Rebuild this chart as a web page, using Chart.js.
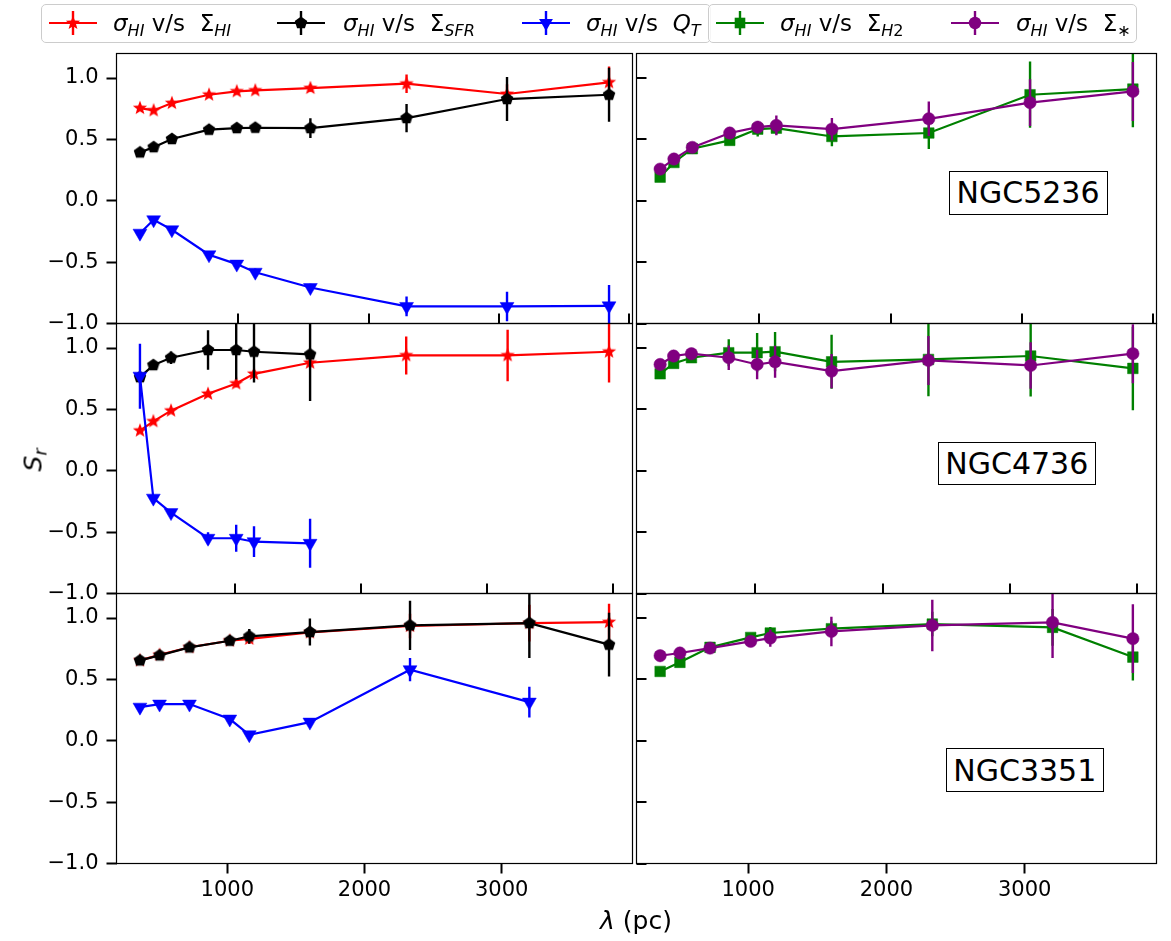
<!DOCTYPE html>
<html>
<head>
<meta charset="utf-8">
<script src="https://cdn.jsdelivr.net/npm/chart.js@4/dist/chart.umd.min.js"></script>
<style>
html,body{margin:0;padding:0;background:#fff;}
#wrap{position:relative;width:1171px;height:941px;overflow:hidden;font-family:"DejaVu Sans",sans-serif;color:#000;}
#wrap canvas{position:absolute;}
.lg{position:absolute;border:1px solid #cccccc;border-radius:5px;background:rgba(255,255,255,0.8);box-sizing:border-box;}
.ent{position:absolute;font-size:23px;white-space:nowrap;line-height:1;}
.ent sub,.lab sub{font-size:0.7em;vertical-align:-0.28em;line-height:0;}
.handle{position:absolute;}
.gal{position:absolute;border:1.3px solid #000;background:#fff;box-sizing:border-box;font-size:30px;display:flex;align-items:center;justify-content:center;}
.lab{position:absolute;font-size:25px;white-space:nowrap;line-height:1;}
</style>
</head>
<body>
<div id="wrap"></div>
<script>
// ---------------- data ----------------
const galaxies = ['NGC5236', 'NGC4736', 'NGC3351'];

const lamNGC5236 = [245, 350, 490, 775, 988, 1130, 1553, 2291, 3062, 3845];
const lamNGC4736 = [251, 357, 497, 790, 1013, 1154, 1598, 2359, 3162, 3965];
const lamNGC3351 = [363, 506, 724, 1018, 1160, 1602, 2332, 3202, 3783];

// NGC5236
const hiNGC5236     = [0.755, 0.736, 0.796, 0.864, 0.891, 0.899, 0.918, 0.954, 0.870, 0.965];
const hiErrNGC5236  = [0.015, 0.015, 0.02, 0.025, 0.025, 0.025, 0.03, 0.075, 0.08, 0.13];
const sfrNGC5236    = [0.394, 0.437, 0.503, 0.579, 0.592, 0.595, 0.592, 0.674, 0.829, 0.864];
const sfrErrNGC5236 = [0.015, 0.02, 0.02, 0.025, 0.03, 0.035, 0.08, 0.115, 0.18, 0.22];
const qtNGC5236     = [-0.264, -0.155, -0.236, -0.44, -0.516, -0.582, -0.707, -0.861, -0.861, -0.856];
const qtErrNGC5236  = [0.02, 0.02, 0.02, 0.025, 0.03, 0.03, 0.03, 0.08, 0.12, 0.17];
const h2NGC5236     = [0.193, 0.312, 0.424, 0.492, 0.584, 0.592, 0.524, 0.552, 0.864, 0.910];
const h2ErrNGC5236  = [0.02, 0.02, 0.02, 0.03, 0.06, 0.05, 0.08, 0.13, 0.27, 0.31];
const stNGC5236     = [0.258, 0.340, 0.435, 0.552, 0.600, 0.614, 0.584, 0.668, 0.800, 0.891];
const stErrNGC5236  = [0.02, 0.02, 0.02, 0.03, 0.05, 0.08, 0.09, 0.14, 0.19, 0.24];

// NGC4736
const hiNGC4736     = [0.327, 0.403, 0.490, 0.627, 0.711, 0.790, 0.880, 0.940, 0.940, 0.970];
const hiErrNGC4736  = [0.02, 0.02, 0.02, 0.025, 0.03, 0.03, 0.04, 0.155, 0.21, 0.25];
const sfrNGC4736    = [0.763, 0.861, 0.921, 0.984, 0.984, 0.970, 0.948];
const sfrErrNGC4736 = [0.03, 0.03, 0.05, 0.16, 0.24, 0.25, 0.38];
const qtNGC4736     = [0.771, -0.223, -0.341, -0.550, -0.550, -0.578, -0.591];
const qtErrNGC4736  = [0.265, 0.02, 0.02, 0.05, 0.11, 0.125, 0.2];
const h2NGC4736     = [0.790, 0.875, 0.921, 0.962, 0.962, 0.970, 0.888, 0.907, 0.935, 0.834];
const h2ErrNGC4736  = [0.02, 0.03, 0.03, 0.11, 0.16, 0.16, 0.22, 0.30, 0.33, 0.34];
const stNGC4736     = [0.866, 0.935, 0.954, 0.921, 0.866, 0.888, 0.812, 0.899, 0.858, 0.954];
const stErrNGC4736  = [0.02, 0.02, 0.03, 0.10, 0.12, 0.13, 0.14, 0.20, 0.19, 0.24];

// NGC3351
const hiNGC3351     = [0.655, 0.700, 0.762, 0.815, 0.830, 0.883, 0.935, 0.959, 0.967];
const hiErrNGC3351  = [0.015, 0.015, 0.02, 0.03, 0.04, 0.05, 0.10, 0.15, 0.15];
const sfrNGC3351    = [0.655, 0.696, 0.761, 0.815, 0.851, 0.886, 0.940, 0.959, 0.783];
const sfrErrNGC3351 = [0.015, 0.015, 0.02, 0.03, 0.06, 0.11, 0.20, 0.285, 0.26];
const qtNGC3351     = [0.274, 0.299, 0.299, 0.177, 0.049, 0.152, 0.579, 0.315];
const qtErrNGC3351  = [0.02, 0.02, 0.02, 0.02, 0.02, 0.02, 0.095, 0.125];
const h2NGC3351     = [0.565, 0.639, 0.761, 0.842, 0.878, 0.913, 0.951, 0.924, 0.682];
const h2ErrNGC3351  = [0.015, 0.02, 0.02, 0.03, 0.05, 0.06, 0.10, 0.15, 0.19];
const stNGC3351     = [0.693, 0.715, 0.755, 0.810, 0.837, 0.891, 0.940, 0.965, 0.832];
const stErrNGC3351  = [0.015, 0.02, 0.02, 0.03, 0.07, 0.12, 0.21, 0.29, 0.28];

const yTickValues = [-1, -0.5, 0, 0.5, 1];
const xTickValues = [1000, 2000, 3000, 4000];
const xTickLabels = ['1000', '2000', '3000', '4000'];
const yRange = [-1, 1.2];

// ---------------- styles ----------------
const seriesStyle = {
  HI:  {color: '#ff0000', marker: 'star'},
  SFR: {color: '#000000', marker: 'pentagon'},
  QT:  {color: '#0000ff', marker: 'tridown'},
  H2:  {color: '#008000', marker: 'square'},
  ST:  {color: '#800080', marker: 'circle'}
};

function polyCanvas(color, pts, size) {
  const c = document.createElement('canvas');
  c.width = size; c.height = size;
  const g = c.getContext('2d');
  g.fillStyle = color;
  g.beginPath();
  pts.forEach((p, i) => i ? g.lineTo(size / 2 + p[0], size / 2 + p[1]) : g.moveTo(size / 2 + p[0], size / 2 + p[1]));
  g.closePath(); g.fill();
  return c;
}
function starPts(R) {
  const pts = [];
  for (let k = 0; k < 10; k++) {
    const a = -Math.PI / 2 + k * Math.PI / 5;
    const rr = k % 2 ? R * 0.42 : R;
    pts.push([rr * Math.cos(a), rr * Math.sin(a)]);
  }
  return pts;
}
function pentPts(R) {
  const pts = [];
  for (let k = 0; k < 5; k++) {
    const a = -Math.PI / 2 + k * 2 * Math.PI / 5;
    pts.push([R * Math.cos(a), R * Math.sin(a)]);
  }
  return pts;
}
const starImg = polyCanvas('#ff0000', starPts(7.5), 18);
const pentImg = polyCanvas('#000000', pentPts(6.6), 16);

function pointOpts(marker) {
  switch (marker) {
    case 'star': return {pointStyle: starImg, pointRadius: 6};
    case 'pentagon': return {pointStyle: pentImg, pointRadius: 6};
    case 'tridown': return {pointStyle: 'triangle', pointRadius: 8, pointRotation: 180};
    case 'square': return {pointStyle: 'rect', pointRadius: 7.5};
    case 'circle': return {pointStyle: 'circle', pointRadius: 6.2};
  }
}

// ---------------- panels ----------------
const rows = [
  {lam: lamNGC5236, left: [['HI', hiNGC5236, hiErrNGC5236], ['SFR', sfrNGC5236, sfrErrNGC5236], ['QT', qtNGC5236, qtErrNGC5236]],
                    right: [['H2', h2NGC5236, h2ErrNGC5236], ['ST', stNGC5236, stErrNGC5236]]},
  {lam: lamNGC4736, left: [['HI', hiNGC4736, hiErrNGC4736], ['SFR', sfrNGC4736, sfrErrNGC4736], ['QT', qtNGC4736, qtErrNGC4736]],
                    right: [['H2', h2NGC4736, h2ErrNGC4736], ['ST', stNGC4736, stErrNGC4736]]},
  {lam: lamNGC3351, left: [['HI', hiNGC3351, hiErrNGC3351], ['SFR', sfrNGC3351, sfrErrNGC3351], ['QT', qtNGC3351, qtErrNGC3351]],
                    right: [['H2', h2NGC3351, h2ErrNGC3351], ['ST', stNGC3351, stErrNGC3351]]}
];

const rowTop = [53.5, 323.5, 593.5];
const rowH = 270;
const colL = [116.5, 636.5];
const colR = [632.5, 1156.5];
const canvasX = [[0, 642], [626, 1171]];

const wrap = document.getElementById('wrap');

const framePlugin = {
  id: 'frame',
  afterDatasetsDraw(chart, args, opts) {
    const {ctx, chartArea: a, scales} = chart;
    ctx.save();
    ctx.strokeStyle = '#000';
    ctx.lineWidth = 2;
    if (opts.inX) {
      xTickValues.forEach(v => {
        if (v >= scales.x.min && v <= scales.x.max) {
          const px = Math.round(scales.x.getPixelForValue(v));
          ctx.beginPath(); ctx.moveTo(px, a.bottom); ctx.lineTo(px, a.bottom - 10); ctx.stroke();
        }
      });
    }
    if (opts.inY) {
      yTickValues.forEach(v => {
        const py = Math.round(scales.y.getPixelForValue(v));
        ctx.beginPath(); ctx.moveTo(a.left, py); ctx.lineTo(a.left + 10, py); ctx.stroke();
      });
    }
    ctx.lineWidth = 1.2;
    ctx.strokeRect(a.left, a.top, a.right - a.left, a.bottom - a.top);
    ctx.restore();
  }
};

function fmtY(v) {
  const s = Math.abs(v).toFixed(1);
  return v < 0 ? '\u2212' + s : s;
}

function makePanel(r, c) {
  const row = rows[r];
  const lam = row.lam;
  const span = lam[lam.length - 1] - lam[0];
  const xMin = lam[0] - 0.05 * span, xMax = lam[lam.length - 1] + 0.05 * span;
  const isBottom = r === 2, isLeft = c === 0;

  const cx0 = canvasX[c][0], cx1 = canvasX[c][1];
  const cy0 = Math.floor(rowTop[r] - 12);
  const cy1 = isBottom ? 941 : Math.ceil(rowTop[r] + rowH + 12);
  const cv = document.createElement('canvas');
  cv.width = cx1 - cx0; cv.height = cy1 - cy0;
  cv.style.left = cx0 + 'px'; cv.style.top = cy0 + 'px';
  cv.style.width = (cx1 - cx0) + 'px'; cv.style.height = (cy1 - cy0) + 'px';
  wrap.appendChild(cv);

  const yAxisW = colL[c] - cx0;
  const padLeft = isLeft ? 0 : yAxisW;
  const padRight = cx1 - colR[c];
  const padTop = rowTop[r] - cy0;
  const bottomEdge = rowTop[r] + rowH;
  const xAxisH = isBottom ? cy1 - bottomEdge : 0;
  const padBottom = isBottom ? 0 : cy1 - bottomEdge;

  const datasets = [];
  let seq = 0;
  const list = isLeft ? row.left : row.right;
  list.forEach(([key, vals, errs]) => {
    const st = seriesStyle[key];
    const seg = [];
    vals.forEach((v, i) => {
      seg.push({x: lam[i], y: v - errs[i]}, {x: lam[i], y: v + errs[i]}, {x: lam[i], y: null});
    });
    datasets.push({
      data: seg, borderColor: st.color, borderWidth: 2.4, pointRadius: 0,
      spanGaps: false, order: 100 - (seq++)
    });
    const po = pointOpts(st.marker);
    datasets.push(Object.assign({
      data: vals.map((v, i) => ({x: lam[i], y: v})),
      borderColor: st.color, backgroundColor: st.color,
      pointBackgroundColor: st.color, pointBorderColor: st.color, pointBorderWidth: 0.5,
      borderWidth: 2.2, order: 100 - (seq++)
    }, po));
  });

  new Chart(cv, {
    type: 'line',
    data: {datasets},
    options: {
      animation: false, responsive: false, devicePixelRatio: 1, events: [],
      layout: {padding: {left: padLeft, right: padRight, top: padTop, bottom: padBottom}},
      plugins: {legend: {display: false}, tooltip: {enabled: false},
                frame: {inX: !isBottom, inY: !isLeft}},
      scales: {
        x: {
          type: 'linear', min: xMin, max: xMax, display: isBottom, position: 'bottom',
          afterBuildTicks: s => { s.ticks = xTickValues.filter(v => v >= s.min && v <= s.max).map(v => ({value: v})); },
          afterFit: s => { s.height = xAxisH; s.paddingLeft = 0; s.paddingRight = 0; },
          border: {display: false},
          grid: {drawOnChartArea: false, drawTicks: true, tickLength: 10, tickWidth: 2, tickColor: '#000'},
          ticks: {color: '#000', font: {family: 'DejaVu Sans', size: 21}, padding: 4, maxRotation: 0, autoSkip: false,
                  callback: v => xTickLabels[xTickValues.indexOf(v)]}
        },
        y: {
          type: 'linear', min: yRange[0], max: yRange[1], display: isLeft, position: 'left',
          afterBuildTicks: s => { s.ticks = yTickValues.map(v => ({value: v})); },
          afterFit: s => { s.width = isLeft ? yAxisW : 0; s.paddingTop = 0; s.paddingBottom = 0; },
          border: {display: false},
          grid: {drawOnChartArea: false, drawTicks: true, tickLength: 10, tickWidth: 2, tickColor: '#000'},
          ticks: {color: '#000', font: {family: 'DejaVu Sans', size: 21}, padding: 8, autoSkip: false,
                  callback: v => fmtY(v)}
        }
      }
    },
    plugins: [framePlugin]
  });
}

for (let r = 0; r < 3; r++) for (let c = 0; c < 2; c++) makePanel(r, c);

// ---------------- galaxy name boxes ----------------
const galBoxes = [[948.5, 171, 159, 43.5], [937.5, 441.5, 158.5, 43], [945.5, 748, 158.5, 44]];
galaxies.forEach((g, i) => {
  const d = document.createElement('div');
  d.className = 'gal';
  const b = galBoxes[i];
  d.style.left = b[0] + 'px'; d.style.top = b[1] + 'px'; d.style.width = b[2] + 'px'; d.style.height = b[3] + 'px';
  d.textContent = g;
  wrap.appendChild(d);
});

// ---------------- legends ----------------
function addBox(l, t, w, h) {
  const d = document.createElement('div');
  d.className = 'lg';
  d.style.left = l + 'px'; d.style.top = t + 'px'; d.style.width = w + 'px'; d.style.height = h + 'px';
  wrap.appendChild(d);
}
addBox(41, 4, 670, 39);
addBox(708, 4, 429, 39);

function markerSVG(marker, color) {
  const cx = 25, cy = 15;
  const pts = a => a.map(p => (cx + p[0]).toFixed(2) + ',' + (cy + p[1]).toFixed(2)).join(' ');
  switch (marker) {
    case 'star': return `<polygon points="${pts(starPts(7.5))}" fill="${color}"/>`;
    case 'pentagon': return `<polygon points="${pts(pentPts(6.6))}" fill="${color}"/>`;
    case 'tridown': {
      const r = 8, s = r * Math.sqrt(3) / 2;
      return `<polygon points="${pts([[-s, -r / 2], [s, -r / 2], [0, r]])}" fill="${color}"/>`;
    }
    case 'square': return `<rect x="${cx - 5.3}" y="${cy - 5.3}" width="10.6" height="10.6" fill="${color}"/>`;
    case 'circle': return `<circle cx="${cx}" cy="${cy}" r="6.2" fill="${color}"/>`;
  }
}
const legendLabels = [
  ['HI',  '<i>σ</i><sub><i>HI</i></sub> v/s&nbsp; Σ<sub><i>HI</i></sub>'],
  ['SFR', '<i>σ</i><sub><i>HI</i></sub> v/s&nbsp; Σ<sub><i>SFR</i></sub>'],
  ['QT',  '<i>σ</i><sub><i>HI</i></sub> v/s&nbsp; <i>Q</i><sub><i>T</i></sub>'],
  ['H2',  '<i>σ</i><sub><i>HI</i></sub> v/s&nbsp; Σ<sub><i>H</i>2</sub>'],
  ['ST',  '<i>σ</i><sub><i>HI</i></sub> v/s&nbsp; Σ<sub>∗</sub>']
];
const legendHandleX = [73, 301, 546, 740, 975];
const legendTextX = [113, 343, 586, 780, 1016];
legendLabels.forEach(([key, html], i) => {
  const st = seriesStyle[key];
  const h = document.createElement('div');
  h.className = 'handle';
  h.style.left = (legendHandleX[i] - 25) + 'px'; h.style.top = '8px';
  h.innerHTML = `<svg width="50" height="30" xmlns="http://www.w3.org/2000/svg">
    <line x1="1" y1="15" x2="49" y2="15" stroke="${st.color}" stroke-width="2.2"/>
    <line x1="25" y1="3" x2="25" y2="27" stroke="${st.color}" stroke-width="2.4"/>
    ${markerSVG(st.marker, st.color)}</svg>`;
  wrap.appendChild(h);
  const t = document.createElement('div');
  t.className = 'ent';
  t.style.left = legendTextX[i] + 'px'; t.style.top = '12px';
  t.innerHTML = html;
  wrap.appendChild(t);
});

// ---------------- axis labels ----------------
const yl = document.createElement('div');
yl.className = 'lab';
yl.innerHTML = '<i>S</i><sub><i>r</i></sub>';
yl.style.left = '33px'; yl.style.top = '460px';
yl.style.transform = 'translate(-50%,-50%) rotate(-90deg)';
wrap.appendChild(yl);

const xl = document.createElement('div');
xl.className = 'lab';
xl.innerHTML = '<i>λ</i> (pc)';
xl.style.left = '636px'; xl.style.top = '920px';
xl.style.transform = 'translate(-50%,-50%)';
wrap.appendChild(xl);
</script>
</body>
</html>
